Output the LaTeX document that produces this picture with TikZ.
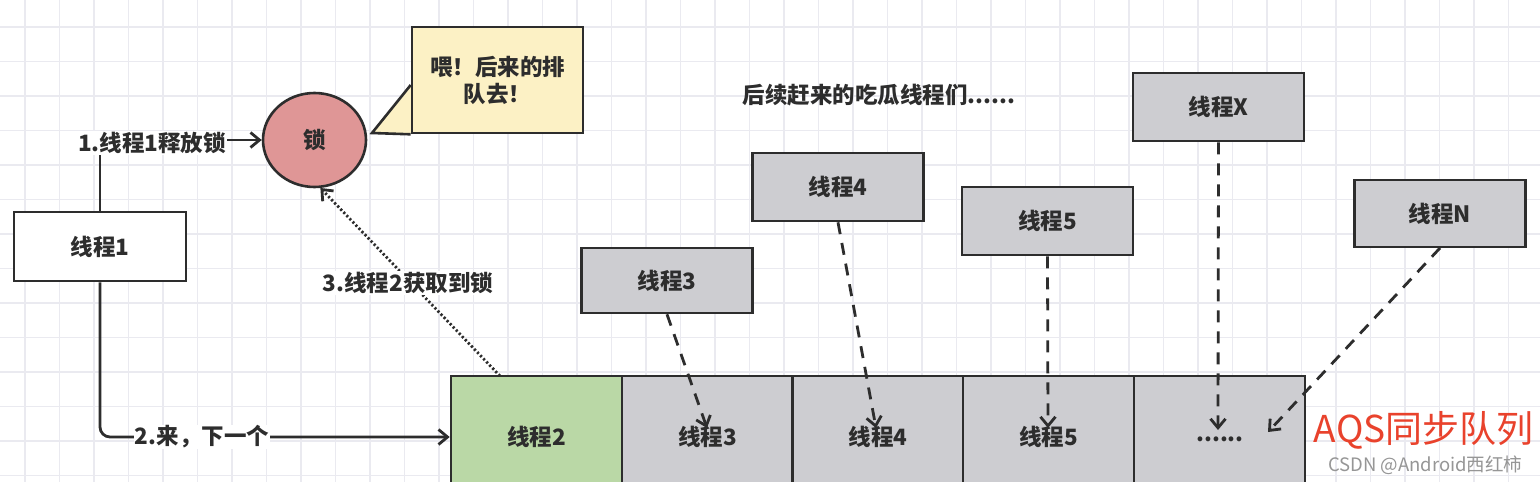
\documentclass[tikz,border=0pt]{standalone}
\usepackage{fontspec}
\setmainfont{Noto Sans CJK SC}
\usetikzlibrary{arrows.meta,shapes.geometric}
\definecolor{gridC}{RGB}{234,234,240}
\definecolor{lineC}{RGB}{45,45,45}
\definecolor{lockC}{RGB}{223,150,150}
\definecolor{noteC}{RGB}{252,241,197}
\definecolor{greenC}{RGB}{186,216,166}
\definecolor{grayC}{RGB}{205,205,209}
\definecolor{redC}{RGB}{233,66,44}
\definecolor{wmC}{RGB}{150,150,150}
\newcommand{\lbfont}{\fontsize{22.5}{27}\selectfont\bfseries}
\begin{document}
\begin{tikzpicture}[x=1pt,y=-1pt,
  box/.style={draw=lineC,line width=2.6pt,inner sep=0pt,font=\lbfont,text=lineC},
  qbox/.style={box,fill=grayC,minimum width=171pt,minimum height=122pt},
  tbox/.style={box,fill=grayC,minimum width=171pt,minimum height=68pt},
  lbl/.style={fill=white,inner sep=1pt,font=\lbfont,text=lineC},
  arr/.style={draw=lineC,line width=2.8pt,-{Straight Barb[length=9pt,width=15pt,line width=2.8pt]}},
  darr/.style={arr,dash pattern=on 12pt off 9pt},
  dotarr/.style={arr,dash pattern=on 2.2pt off 2.2pt}]
\useasboundingbox (0,0) rectangle (1540,482);
\clip (0,0) rectangle (1540,482);
\fill[white] (0,0) rectangle (1540,482);
\foreach \i in {0,...,44} \draw[gridC,line width=1.4pt] ({25+34.5*\i},0) -- ++(0,482);
\foreach \j in {0,...,13} \draw[gridC,line width=1.4pt] (0,{27+34.5*\j}) -- ++(1540,0);

% lock and callout
\node[ellipse,draw=lineC,line width=2.6pt,fill=lockC,minimum width=103pt,minimum height=94pt,inner sep=0pt,font=\lbfont,text=lineC] (lock) at (314.5,140) {锁};
\fill[noteC] (412,85) -- (372,133) -- (412,133) -- cycle;
\node[box,fill=noteC,minimum width=171pt,minimum height=106pt,align=center,font=\fontsize{22.5}{27}\selectfont\bfseries] (note) at (497.5,80) {喂！后来的排\\队去！};
\draw[lineC,line width=2.6pt,line join=miter] (note.north west |- 0,85) -- (372,133) -- (note.south west);

% thread 1
\node[box,fill=white,minimum width=172pt,minimum height=69pt] (t1) at (100,246.5) {线程1};

% queue
\node[qbox,fill=greenC] (q2) at (536.5,437) {线程2};
\node[qbox] (q3) at (707.5,437) {线程3};
\node[qbox] (q4) at (878,437) {线程4};
\node[qbox] (q5) at (1048.5,437) {线程5};
\node[qbox] (qx) at (1219.5,437) {};
\node[font=\lbfont,text=lineC] (dots) at (1220,439) {......};

% waiting threads
\node[tbox,minimum height=65pt] (t3) at (667,280.5) {线程3};
\node[tbox] (t4) at (838,187) {线程4};
\node[tbox] (t5) at (1047.5,221) {线程5};
\node[tbox] (tx) at (1218.5,107) {线程X};
\node[tbox,minimum height=67pt] (tn) at (1440,213.5) {线程N};
\node[font=\lbfont,text=lineC] (crowd) at (879,95) {后续赶来的吃瓜线程们......};

% connectors
\draw[arr] (t1.north) |- (lock.west);
\node[lbl] (l1) at (152,143) {1.线程1释放锁};
\draw[arr,rounded corners=10pt] (t1.south) |- (q2.west);
\node[lbl] (l2) at (202,437) {2.来，下一个};
\coordinate (d0) at (500,376);
\draw[dotarr] (d0) -- (lock.-83);
\node[lbl] (l3) at (408,283) {3.线程2获取到锁};

\coordinate (e3) at (707,428);
\coordinate (e4) at (876,428);
\coordinate (e5) at (1048,428);
\coordinate (ex) at (1218,430);
\coordinate (en) at (1268,432);
\draw[darr] (t3.south) -- (e3);
\draw[darr] (t4.south) -- (e4);
\draw[darr] (t5.south) -- (e5);
\draw[darr] (tx.south) -- (ex);
\coordinate (s5) at (1440,248);
\draw[darr] (s5) -- (en);

% watermark
\node[anchor=east,text=redC,font=\fontsize{37}{40}\selectfont] (wm1) at (1537,430) {AQS同步队列};
\node[anchor=east,text=wmC,font=\fontsize{18.5}{21}\selectfont] (wm2) at (1526,465) {CSDN @Android西红柿};
\end{tikzpicture}
\end{document}
